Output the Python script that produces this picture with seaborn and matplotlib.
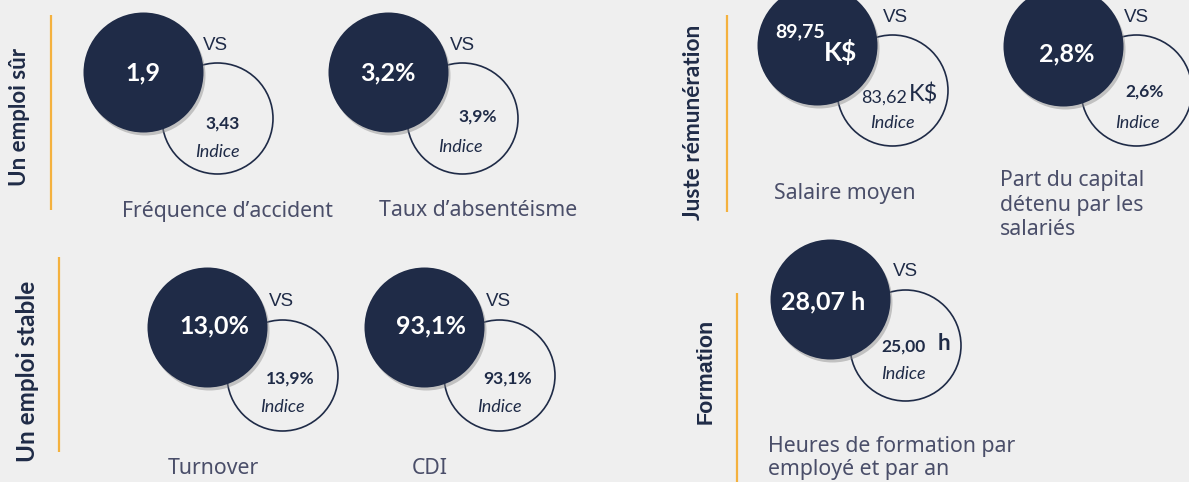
import matplotlib
matplotlib.use("Agg")
import matplotlib.pyplot as plt
import seaborn as sns
import pandas as pd

# ---------------- data ----------------
categories = ["Un emploi sûr", "Un emploi stable", "Juste rémunération", "Formation"]
indicators = ["Fréquence d’accident", "Taux d’absentéisme", "Turnover", "CDI",
              "Salaire moyen", "Part du capital\ndétenu par les\nsalariés",
              "Heures de formation par\nemployé et par an"]
company_values = ["1,9", "3,2%", "13,0%", "93,1%", "89,75", "2,8%", "28,07 h"]
company_units = ["", "", "", "", "K$", "", ""]
index_values = ["3,43", "3,9%", "13,9%", "93,1%", "83,62", "2,6%", "25,00"]
index_units = ["", "", "", "", "K$", "", "h"]
index_label = "Indice"
vs_label = "VS"

# ---------------- layout (pixels) ----------------
dark_x = [143, 388, 207, 424, 817, 1063, 830]
dark_y = [72, 72, 327, 327, 45, 46, 299]
white_x = [217, 462, 282, 499, 892, 1136, 905]
white_y = [118, 118, 375, 375, 90, 90, 345]
val_pos = [(143, 73), (388, 73), (214, 326), (431, 326), (800, 32), (1067, 54), (823, 302)]
idx_pos = [(223, 124), (478, 117), (290, 379), (508, 379), (883, 98), (1145, 92), (903, 347)]
ind_pos = [(217, 152), (460, 147), (282, 407), (499, 407), (892, 123), (1137, 123), (903, 374)]
vs_pos = [(215, 45), (462, 45), (281, 302), (498, 302), (895, 17), (1136, 17), (905, 272)]
desc_pos = [(228, 212, "center"), (478, 210, "center"), (213, 468, "center"), (430, 468, "center"),
            (845, 193, "center"), (1000, 205, "left"), (768, 458, "left")]
desc_spacing = [1.0, 1.0, 1.0, 1.0, 1.0, 1.22, 1.12]
cat_pos = [(20, 117), (28, 371), (693, 122), (706, 371)]
cat_size = [16, 17.5, 16.3, 15.5]
cat_font = ["Lato", "Lato", "Lato", "Liberation Sans"]
line_pos = [(51, 15, 210), (59, 257, 452), (727, 15, 212), (737, 293, 482)]

NAVY = "#1f2b47"
BG = "#efefef"
ORANGE = "#f4b13e"
DESC = "#4a4e69"

W, H, DPI = 1189, 482, 100
fig = plt.figure(figsize=(W / DPI, H / DPI), dpi=DPI, facecolor=BG)
ax = fig.add_axes([0, 0, 1, 1])
ax.set_xlim(0, W)
ax.set_ylim(H, 0)
ax.axis("off")
ax.set_facecolor(BG)


def s_for(r_px):
    d_pt = 2 * r_px * 72 / DPI
    return d_pt ** 2


df_white = pd.DataFrame({"x": white_x, "y": white_y})
df_dark = pd.DataFrame({"x": dark_x, "y": dark_y})
df_shadow = pd.DataFrame({"x": [v + 2 for v in dark_x], "y": [v + 3 for v in dark_y]})

sns.scatterplot(data=df_white, x="x", y="y", s=s_for(55.5), color=BG, edgecolor=NAVY,
                linewidth=1.2, ax=ax, zorder=2, legend=False)
sns.scatterplot(data=df_shadow, x="x", y="y", s=s_for(60), color="#8a8a8a", alpha=0.45,
                linewidth=0, ax=ax, zorder=3, legend=False)
sns.scatterplot(data=df_dark, x="x", y="y", s=s_for(60), color=NAVY, linewidth=0,
                ax=ax, zorder=4, legend=False)
ax.set_xlabel("")
ax.set_ylabel("")

for i in range(len(indicators)):
    # company value
    vx, vy = val_pos[i]
    if company_units[i]:
        ax.text(vx, vy, company_values[i], color="white", fontsize=14, fontweight="bold",
                family="Lato", ha="center", va="center", zorder=5)
        ax.text(vx + 40, vy + 20, company_units[i], color="white", fontsize=19, fontweight="bold",
                family="Lato", ha="center", va="center", zorder=5)
    else:
        ax.text(vx, vy, company_values[i], color="white", fontsize=18, fontweight="bold",
                family="Lato", ha="center", va="center", zorder=5)
    # index value
    ix, iy = idx_pos[i]
    if index_units[i] == "K$":
        ax.text(ix + 24, iy, index_values[i], color=NAVY, fontsize=13, family="Lato",
                ha="right", va="center", zorder=5)
        ax.text(ix + 26, iy - 4, index_units[i], color=NAVY, fontsize=17, family="Lato",
                ha="left", va="center", zorder=5)
    elif index_units[i]:
        ax.text(ix, iy, index_values[i], color=NAVY, fontsize=12.5, fontweight="bold", family="Lato",
                ha="center", va="center", zorder=5)
        ax.text(ix + 41, iy - 3, index_units[i], color=NAVY, fontsize=16, fontweight="bold",
                family="Lato", ha="center", va="center", zorder=5)
    else:
        ax.text(ix, iy, index_values[i], color=NAVY, fontsize=12.5, fontweight="bold", family="Lato",
                ha="center", va="center", zorder=5)
    # Indice
    nx, ny = ind_pos[i]
    ax.text(nx, ny, index_label, color=NAVY, fontsize=13, style="italic", family="Lato",
            ha="center", va="center", zorder=5)
    # VS
    sx, sy = vs_pos[i]
    ax.text(sx, sy, vs_label, color=NAVY, fontsize=13.5, family="Liberation Sans",
            ha="center", va="center", zorder=5)
    # description
    dx, dy, al = desc_pos[i]
    ax.text(dx, dy, indicators[i], color=DESC, fontsize=15.3, family="Noto Sans",
            ha=al, va="center", linespacing=desc_spacing[i], zorder=5)

for (cx, cy), cat, fs, fam in zip(cat_pos, categories, cat_size, cat_font):
    ax.text(cx, cy, cat, color=NAVY, fontsize=fs, fontweight="bold", family=fam,
            rotation=90, ha="center", va="center")

for (lx, y0, y1) in line_pos:
    ax.plot([lx, lx], [y0, y1], color=ORANGE, linewidth=1.6, solid_capstyle="butt")

fig.savefig("out.png", dpi=DPI, facecolor=BG)
